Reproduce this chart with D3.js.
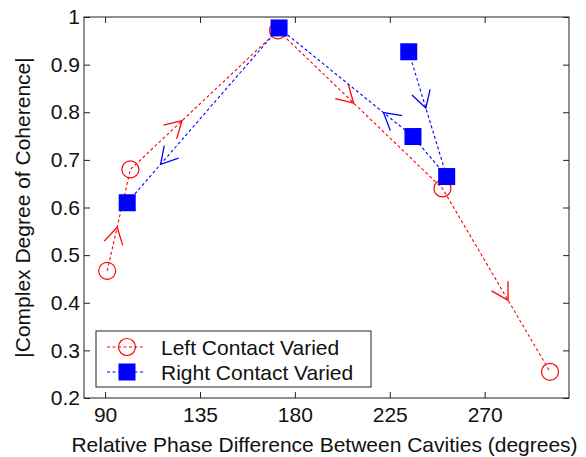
<!DOCTYPE html>
<html>
<head>
<meta charset="utf-8">
<script src="https://cdn.jsdelivr.net/npm/d3@7"></script>
<style>
  html, body { margin: 0; padding: 0; background: #fff; }
  svg text { font-family: "Liberation Sans", Arial, sans-serif; fill: #111; }
</style>
</head>
<body>
<svg id="chart" width="586" height="457"></svg>
<script>
// Tick values
const xTicks = [90, 135, 180, 225, 270];
const yTicks = [0.2, 0.3, 0.4, 0.5, 0.6, 0.7, 0.8, 0.9, 1];

// Left contact varied (red circles), in travel order
const leftPhase = [91, 102, 172, 250, 301];
const leftCoh = [0.467, 0.68, 0.972, 0.64, 0.255];
// arrows: segment index and fraction along it
const leftArrowSeg = [0, 1, 2, 3];
const leftArrowT = [0.43, 0.35, 0.46, 0.61];

// Right contact varied (blue squares), in travel order
const rightPhase = [234, 252, 236, 172.5, 100.5];
const rightCoh = [0.927, 0.665, 0.749, 0.977, 0.61];
const rightArrowSeg = [0, 2, 3];
const rightArrowT = [0.45, 0.22, 0.78];

const legendLabels = ["Left Contact Varied", "Right Contact Varied"];

const W = 586, H = 457;
const margin = {top: 17, right: 17, bottom: 59, left: 84};
const iw = W - margin.left - margin.right;
const ih = H - margin.top - margin.bottom;

const RED = "#ff0000", BLUE = "#0000ff";

const x = d3.scaleLinear().domain([80, 310]).range([0, iw]);
const y = d3.scaleLinear().domain([0.2, 1]).range([ih, 0]);

const svg = d3.select("#chart");
const g = svg.append("g").attr("transform", `translate(${margin.left},${margin.top})`);

// axes (ticks inward on all four sides)
function styleAxis(sel){
  sel.select(".domain").remove();
  sel.selectAll(".tick line").attr("stroke", "#222");
  sel.selectAll("text").style("font-size", "21px").attr("fill", "#111");
}

g.append("g").attr("transform", `translate(0,${ih})`)
  .call(d3.axisBottom(x).tickValues(xTicks).tickSizeInner(-6).tickSizeOuter(0).tickPadding(9))
  .call(styleAxis);
g.append("g")
  .call(d3.axisTop(x).tickValues(xTicks).tickSizeInner(-6).tickSizeOuter(0).tickFormat(""))
  .call(styleAxis);
g.append("g")
  .call(d3.axisLeft(y).tickValues(yTicks).tickSizeInner(-6).tickSizeOuter(0).tickPadding(4)
    .tickFormat(d => d === 1 ? "1" : d3.format(".1f")(d)))
  .call(styleAxis);
g.append("g").attr("transform", `translate(${iw},0)`)
  .call(d3.axisRight(y).tickValues(yTicks).tickSizeInner(-6).tickSizeOuter(0).tickFormat(""))
  .call(styleAxis);

g.append("rect")
  .attr("width", iw).attr("height", ih)
  .attr("fill", "none").attr("stroke", "#222").attr("stroke-width", 1);

// axis labels
svg.append("text")
  .attr("x", margin.left + iw / 2 - 2).attr("y", 452)
  .attr("text-anchor", "middle").style("font-size", "21px")
  .text("Relative Phase Difference Between Cavities (degrees)");

svg.append("text")
  .attr("transform", `translate(30,${margin.top + ih / 2}) rotate(-90)`)
  .attr("text-anchor", "middle").style("font-size", "21px")
  .text("|Complex Degree of Coherence|");

const line = d3.line().x(d => x(d[0])).y(d => y(d[1]));

function drawArrows(pts, segs, ts, color){
  segs.forEach((s, i) => {
    const a = pts[s], b = pts[s + 1];
    const ax = x(a[0]), ay = y(a[1]), bx = x(b[0]), by = y(b[1]);
    const t = ts[i];
    const tx = ax + (bx - ax) * t, ty = ay + (by - ay) * t;
    const back = Math.atan2(ay - by, ax - bx);
    const len = 19, half = 30 * Math.PI / 180;
    const p1 = [tx + len * Math.cos(back + half), ty + len * Math.sin(back + half)];
    const p2 = [tx + len * Math.cos(back - half), ty + len * Math.sin(back - half)];
    g.append("path")
      .attr("d", `M${p1[0]},${p1[1]}L${tx},${ty}L${p2[0]},${p2[1]}`)
      .attr("fill", "none").attr("stroke", color).attr("stroke-width", 1.3);
  });
}

// left contact series
const leftPts = leftPhase.map((p, i) => [p, leftCoh[i]]);
g.append("path").datum(leftPts)
  .attr("d", line).attr("fill", "none")
  .attr("stroke", RED).attr("stroke-width", 1.1).attr("stroke-dasharray", "3,2.5");
drawArrows(leftPts, leftArrowSeg, leftArrowT, RED);
g.selectAll("circle.left").data(leftPts).join("circle")
  .attr("class", "left")
  .attr("cx", d => x(d[0])).attr("cy", d => y(d[1])).attr("r", 8.5)
  .attr("fill", "none").attr("stroke", RED).attr("stroke-width", 1.2);

// right contact series
const rightPts = rightPhase.map((p, i) => [p, rightCoh[i]]);
g.append("path").datum(rightPts)
  .attr("d", line).attr("fill", "none")
  .attr("stroke", BLUE).attr("stroke-width", 1.1).attr("stroke-dasharray", "3,2.5");
drawArrows(rightPts, rightArrowSeg, rightArrowT, BLUE);
const sq = 17;
g.selectAll("rect.right").data(rightPts).join("rect")
  .attr("class", "right")
  .attr("x", d => x(d[0]) - sq / 2).attr("y", d => y(d[1]) - sq / 2)
  .attr("width", sq).attr("height", sq).attr("fill", BLUE);

// legend
const leg = svg.append("g").attr("transform", "translate(96,331)");
leg.append("rect").attr("width", 275).attr("height", 56)
  .attr("fill", "#fff").attr("stroke", "#222").attr("stroke-width", 1);
[RED, BLUE].forEach((c, i) => {
  const cy = 16 + i * 25;
  leg.append("line").attr("x1", 11).attr("x2", 48).attr("y1", cy).attr("y2", cy)
    .attr("stroke", c).attr("stroke-width", 1.1).attr("stroke-dasharray", "3,2.5");
  if (i === 0) {
    leg.append("circle").attr("cx", 31).attr("cy", cy).attr("r", 8.5)
      .attr("fill", "none").attr("stroke", c).attr("stroke-width", 1.2);
  } else {
    leg.append("rect").attr("x", 31 - sq / 2).attr("y", cy - sq / 2)
      .attr("width", sq).attr("height", sq).attr("fill", c);
  }
  leg.append("text").attr("x", 65).attr("y", cy + 7.5)
    .style("font-size", "21px").text(legendLabels[i]);
});
</script>
</body>
</html>
